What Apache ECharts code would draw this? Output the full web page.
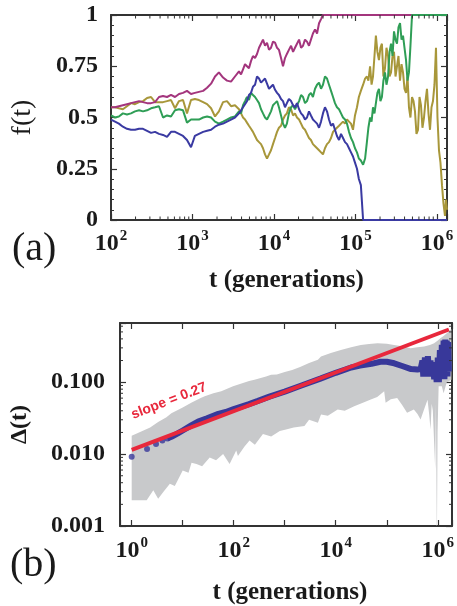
<!DOCTYPE html>
<html>
<head>
<meta charset="utf-8">
<script src="https://cdn.jsdelivr.net/npm/echarts@6/dist/echarts.min.js"></script>
<style>
  html, body { margin: 0; padding: 0; background: #fff; }
  #chart { width: 457px; height: 606px; }
</style>
</head>
<body>
<div id="chart"></div>
<script>
// ---- panel (a): frequency of four alleles, shared time grid ----
var tGen = [100,112,125,140,157,176,197,221,247,277,
  310,347,388,435,487,545,610,683,765,856,
  959,1070,1200,1350,1510,1690,1890,2110,2370,2650,
  2970,3320,
  3720,3940,4170,4410,4660,4930,5220,5520,5850,6190,
  6550,6930,7330,7760,8210,8690,9190,9720,10300,10900,
  11500,12200,12900,13650,14400,15240,16200,17140,18100,19150,
  20300,21480,22700,24020,25400,26880,28400,30050,31900,33750,
  35700,37770,39900,42220,44700,47300,50100,53010,56000,59250,
  62800,66450,70300,74380,78700,83270,88100,93220,98600,104300,
  110000,116400,124000,131200,138000,
  144000,151000,157500,164000,171000,178000,185700,194000,202300,211000,
  220000,230000,240000,251000,261800,273000,284700,297000,309800,323000,
  336900,352000,367100,383000,399500,417000,434900,453000,472500,494000,
  515200,537000,560100,585000,610200,636000,663300,693000,722800,754000,
  786400,821000,856300,893000,931400,972000,1013800,1058000,1103500,1152000,
  1201500,1254000,1290000,1327000];

var fPurple = [0.55,0.55,0.555,0.56,0.565,0.57,0.575,0.58,0.575,0.57,
  0.57,0.575,0.60,0.605,0.60,0.61,0.60,0.615,0.62,0.63,
  0.615,0.62,0.625,0.63,0.645,0.665,0.70,0.72,0.695,0.68,
  0.675,0.70,
  0.725,0.71,0.735,0.76,0.755,0.74,0.775,0.80,0.79,0.81,
  0.84,0.86,0.88,0.85,0.865,0.83,0.84,0.87,0.865,0.84,
  0.83,0.79,0.75,0.79,0.81,0.83,0.85,0.82,0.84,0.86,
  0.88,0.84,0.85,0.88,0.87,0.85,0.88,0.91,0.93,0.91,
  0.96,0.98,1,1,1,1,1,1,1,1,
  1,1,1,1,1,1,1,1,1,1,
  1,1,1,1,1,
  1,1,1,1,1,1,1,1,1,1,
  1,1,1,1,1,1,1,1,1,1,
  1,1,1,1,1,1,1,1,1,1,
  1,1,1,1,1,1,1,1,1,1,
  1,1,1,1,1,1,1,1,1,1,
  1,1,1,1];

var fBlue = [0.49,0.48,0.47,0.455,0.445,0.44,0.44,0.445,0.445,0.435,
  0.425,0.43,0.42,0.415,0.405,0.43,0.43,0.42,0.41,0.39,
  0.355,0.41,0.42,0.43,0.435,0.44,0.455,0.465,0.47,0.48,
  0.49,0.50,
  0.52,0.535,0.55,0.565,0.58,0.61,0.62,0.65,0.66,0.70,
  0.69,0.67,0.68,0.69,0.665,0.64,0.65,0.66,0.635,0.62,
  0.61,0.59,0.58,0.55,0.57,0.59,0.58,0.56,0.55,0.57,
  0.54,0.52,0.51,0.49,0.50,0.53,0.51,0.49,0.48,0.47,
  0.45,0.48,0.52,0.55,0.53,0.49,0.46,0.47,0.44,0.41,
  0.39,0.42,0.40,0.38,0.37,0.35,0.33,0.31,0.28,0.25,
  0.20,0.17,0,0,0,
  0,0,0,0,0,0,0,0,0,0,
  0,0,0,0,0,0,0,0,0,0,
  0,0,0,0,0,0,0,0,0,0,
  0,0,0,0,0,0,0,0,0,0,
  0,0,0,0,0,0,0,0,0,0,
  0,0,0,0];

var fGreen = [0.51,0.50,0.505,0.52,0.515,0.52,0.53,0.535,0.53,0.535,
  0.545,0.55,0.555,0.50,0.51,0.505,0.535,0.54,0.535,0.475,
  0.49,0.49,0.49,0.50,0.505,0.50,0.48,0.47,0.48,0.49,
  0.50,0.505,
  0.53,0.52,0.56,0.58,0.60,0.585,0.62,0.61,0.60,0.585,
  0.57,0.54,0.52,0.50,0.49,0.51,0.53,0.56,0.57,0.58,
  0.55,0.51,0.47,0.45,0.47,0.52,0.55,0.56,0.54,0.56,
  0.58,0.61,0.60,0.57,0.58,0.61,0.62,0.60,0.64,0.66,
  0.67,0.64,0.66,0.70,0.69,0.66,0.63,0.60,0.57,0.55,
  0.54,0.52,0.50,0.49,0.47,0.43,0.40,0.38,0.35,0.33,
  0.30,0.29,0.27,0.30,0.38,
  0.45,0.50,0.48,0.55,0.52,0.57,0.62,0.64,0.58,0.60,
  0.68,0.72,0.66,0.70,0.82,0.86,0.80,0.92,0.88,0.86,
  0.94,0.96,0.88,0.90,0.84,0.78,0.68,0.72,0.85,1,
  1,1,1,1,1,1,1,1,1,1,
  1,1,1,1,1,1,1,1,1,1,
  1,1,1,1];

var fGold = [0.55,0.55,0.545,0.54,0.555,0.57,0.565,0.575,0.58,0.595,
  0.60,0.575,0.575,0.575,0.58,0.585,0.545,0.58,0.585,0.52,
  0.585,0.59,0.585,0.575,0.565,0.545,0.505,0.53,0.575,0.58,
  0.555,0.56,
  0.54,0.52,0.50,0.49,0.475,0.46,0.445,0.43,0.41,0.39,
  0.38,0.37,0.35,0.32,0.30,0.32,0.34,0.37,0.40,0.43,
  0.45,0.46,0.49,0.51,0.52,0.55,0.54,0.51,0.52,0.50,
  0.49,0.47,0.45,0.44,0.42,0.40,0.39,0.37,0.36,0.35,
  0.34,0.33,0.32,0.35,0.37,0.38,0.40,0.43,0.44,0.45,
  0.46,0.47,0.48,0.47,0.49,0.48,0.47,0.44,0.51,0.55,
  0.60,0.63,0.66,0.69,0.70,
  0.68,0.75,0.66,0.70,0.80,0.90,0.82,0.78,0.84,0.86,
  0.70,0.74,0.84,0.80,0.70,0.72,0.80,0.82,0.70,0.75,
  0.80,0.68,0.76,0.72,0.64,0.62,0.70,0.55,0.50,0.60,
  0.58,0.53,0.42,0.44,0.60,0.56,0.45,0.50,0.58,0.64,
  0.52,0.44,0.55,0.58,0.66,0.84,0.50,0.34,0.28,0.17,
  0.08,0.02,0.10,0.05];

var fTicks = [0, 0.25, 0.5, 0.75, 1];

// ---- panel (b): Delta(t) ----
var dotT = [1, 2, 3, 4, 5];
var dotD = [0.0092, 0.0118, 0.0138, 0.0154, 0.0165];

var meanT = [5,6,8,10,15,20,30,50,70,100,200,300,500,1000,2000,5000,10000,20000,30000,50000,
  75000,100000,140000,200000,300000,400000,460000,
  500000,520000,560000,600000,640000,680000,720000,760000,800000,850000,900000,950000,
  1000000,1050000,1100000,1150000,1200000,1250000,1300000,1350000,1400000,1450000,1500000,1550000,1600000,1650000];
var meanD = [0.0165,0.0174,0.0194,0.0213,0.0253,0.0283,0.0315,0.0362,0.0385,0.0422,0.0495,0.055,0.063,0.074,0.0886,0.112,0.135,0.160,0.170,0.180,
  0.192,0.192,0.183,0.168,0.152,0.150,0.152,
  0.20,0.12,0.22,0.13,0.23,0.12,0.20,0.12,0.19,0.11,0.19,0.10,
  0.22,0.10,0.28,0.11,0.33,0.11,0.38,0.11,0.39,0.12,0.38,0.12,0.36,0.14];

var upT = [1,1.5,2.3,3.3,4.8,6,10,15,22,27,40,57,97,200,255,430,540,700,1000,1400,2000,
  3000,4470,5140,8000,12600,20000,31000,45000,66000,100000,139000,200000,293000,400000,
  540000,700000,850000,1000000,1140000,1300000,1500000,1850000];
var upD = [0.018,0.0205,0.0235,0.028,0.0325,0.037,0.0444,0.052,0.060,0.0637,0.070,0.0746,0.0875,0.104,0.108,0.12,0.127,0.128,0.138,0.148,0.162,
  0.185,0.205,0.227,0.255,0.281,0.305,0.33,0.34,0.348,0.342,0.33,0.315,0.297,0.305,
  0.313,0.33,0.348,0.38,0.41,0.44,0.48,0.55];

var lowT = [1,1.97,2.65,3.3,4.2,5.6,7,10,13,14.9,18.6,24,33.8,45,62,83,112,121,160,204,260,374,542,800,1060,1500,2430,3000,4470,
  5140,7000,10900,15000,23000,35000,48600,65000,89000,95000,120000,160000,200000,250000,340000,400000,460000,
  560000,630000,680000,720000,760000,800000,890000,920000,960000,990000,1040000,1200000,1300000,1500000,1850000];
var lowD = [0.00228,0.00228,0.00313,0.00239,0.0030,0.00386,0.0036,0.0059,0.0055,0.0076,0.0073,0.0068,0.0090,0.0082,0.0100,0.0073,0.0112,0.0094,0.0125,0.0154,0.0135,0.019,0.0176,0.021,0.022,0.0235,0.0245,0.030,0.0272,
  0.0355,0.034,0.0417,0.040,0.0463,0.052,0.0573,0.062,0.0746,0.0516,0.058,0.0604,0.048,0.0375,0.0417,0.036,0.0303,
  0.045,0.057,0.035,0.022,0.05,0.04,0.0062,0.05,0.0005,0.02,0.0875,0.0875,0.07,0.10,0.108];

var fitT = [1, 1650000];
var fitD = [0.0114, 0.54];

var dTicks = [0.001, 0.01, 0.1];

// ---- helpers ----
var SERIF = '"Liberation Serif", "Times New Roman", serif';
var INK = '#1a1a1a';

function zip(xs, ys) {
  return xs.map(function (x, i) { return [x, ys[i]]; });
}
function isPow10(v) {
  var e = Math.log10(v);
  return Math.abs(e - Math.round(e)) < 1e-6;
}
function minorLog(lo, hi) {
  var out = [];
  for (var e = Math.floor(Math.log10(lo)); e <= Math.ceil(Math.log10(hi)); e++) {
    for (var k = 2; k <= 9; k++) {
      var v = k * Math.pow(10, e);
      if (v > lo && v < hi) out.push(v);
    }
  }
  return out;
}

var xA = [100, 1327000];
var xB = [0.59, 1900000];
var yB = [0.001, 0.665];

var rich = {
  b: { fontFamily: SERIF, fontWeight: 'bold', fontSize: 24, color: INK },
  e: { fontFamily: SERIF, fontWeight: 'bold', fontSize: 15, color: INK, padding: [0, 0, 14, 1] }
};

function tickAxis(extra) {
  var base = {
    axisLine: { show: true, onZero: false, lineStyle: { color: '#333', width: 2 } },
    axisTick: { show: true, inside: true, length: 6, lineStyle: { color: '#333', width: 1.2 } },
    splitLine: { show: false },
    axisLabel: { show: false }
  };
  return Object.assign(base, extra);
}

var chart = echarts.init(document.getElementById('chart'));

var option = {
  animation: false,
  backgroundColor: '#fff',
  grid: [
    { left: 111, top: 15, width: 336, height: 205 },
    { left: 118, top: 323, width: 334, height: 205 }
  ],
  xAxis: [
    tickAxis({
      gridIndex: 0, type: 'log', min: xA[0], max: xA[1], position: 'bottom',
      axisLabel: {
        show: true, margin: 9, rich: rich,
        formatter: function (v) {
          if (!isPow10(v)) return '';
          return '{b|10}{e|' + Math.round(Math.log10(v)) + '}';
        }
      },
      name: 't (generations)', nameLocation: 'middle', nameGap: 48,
      nameTextStyle: { fontFamily: SERIF, fontWeight: 'bold', fontSize: 25, color: INK, padding: [0, 0, 0, 15] }
    }),
    tickAxis({ gridIndex: 0, type: 'log', min: xA[0], max: xA[1], position: 'top' }),
    tickAxis({
      gridIndex: 1, type: 'log', min: xB[0], max: xB[1], position: 'bottom',
      axisLabel: {
        show: true, margin: 10, rich: rich,
        formatter: function (v) {
          if (!isPow10(v)) return '';
          var e = Math.round(Math.log10(v));
          if (e % 2 !== 0) return '';
          return '{b|10}{e|' + e + '}';
        }
      },
      name: 't (generations)', nameLocation: 'middle', nameGap: 54,
      nameTextStyle: { fontFamily: SERIF, fontWeight: 'bold', fontSize: 25, color: INK, padding: [0, 0, 0, 8] }
    }),
    tickAxis({ gridIndex: 1, type: 'log', min: xB[0], max: xB[1], position: 'top' })
  ],
  yAxis: [
    tickAxis({
      gridIndex: 0, type: 'value', min: fTicks[0], max: fTicks[fTicks.length - 1], interval: 0.25,
      position: 'left',
      minorTick: { show: true, splitNumber: 5, length: 3, lineStyle: { color: '#333', width: 1 } },
      axisLabel: {
        show: true, margin: 13, fontFamily: SERIF, fontWeight: 'bold', fontSize: 24, color: INK,
        formatter: function (v) { return fTicks.indexOf(v) >= 0 ? String(v) : ''; }
      },
      name: 'f(t)', nameLocation: 'middle', nameGap: 74, nameRotate: 90,
      nameTextStyle: { fontFamily: SERIF, fontSize: 28, color: INK }
    }),
    tickAxis({
      gridIndex: 0, type: 'value', min: 0, max: 1, interval: 0.25, position: 'right',
      minorTick: { show: true, splitNumber: 5, length: 3, lineStyle: { color: '#333', width: 1 } }
    }),
    tickAxis({
      gridIndex: 1, type: 'log', min: yB[0], max: yB[1], splitNumber: 3, position: 'left',
      axisLabel: {
        show: true, margin: 15, fontFamily: SERIF, fontWeight: 'bold', fontSize: 24, color: INK,
        formatter: function (v) {
          if (!isPow10(v)) return '';
          return dTicks.some(function (d) { return Math.abs(d - v) < 1e-9; }) ? v.toFixed(3) : '';
        }
      },
      name: '\u0394(t)', nameLocation: 'middle', nameGap: 88, nameRotate: 90,
      nameTextStyle: { fontFamily: SERIF, fontWeight: 'bold', fontSize: 24, color: INK }
    }),
    tickAxis({ gridIndex: 1, type: 'log', min: yB[0], max: yB[1], splitNumber: 3, position: 'right' })
  ],
  graphic: [
    { type: 'text', left: 12, top: 229, style: { text: '(a)', font: '40px ' + SERIF, fill: INK } },
    { type: 'text', left: 10, top: 545, style: { text: '(b)', font: '40px ' + SERIF, fill: INK } },
    {
      type: 'text', x: 169, y: 401, rotation: 21 * Math.PI / 180,
      style: { text: 'slope = 0.27', font: 'bold 14px "Liberation Sans", Arial, sans-serif', fill: '#e8283c', align: 'center', verticalAlign: 'middle' },
      z: 100
    }
  ],
  series: [
    // panel (a)
    { type: 'line', xAxisIndex: 0, yAxisIndex: 0, data: zip(tGen, fGold), showSymbol: false, lineStyle: { color: '#a8973a', width: 2 }, z: 2 },
    { type: 'line', xAxisIndex: 0, yAxisIndex: 0, data: zip(tGen, fPurple), showSymbol: false, lineStyle: { color: '#a3357d', width: 2 }, z: 3 },
    { type: 'line', xAxisIndex: 0, yAxisIndex: 0, data: zip(tGen, fGreen), showSymbol: false, lineStyle: { color: '#2f9e56', width: 2 }, z: 4 },
    { type: 'line', xAxisIndex: 0, yAxisIndex: 0, data: zip(tGen, fBlue), showSymbol: false, lineStyle: { color: '#3a3aa2', width: 2 }, z: 5 },
    // minor log ticks on (a) x axis, bottom and top
    {
      type: 'custom', xAxisIndex: 0, yAxisIndex: 0, silent: true, z: 6,
      data: minorLog(xA[0], xA[1]).map(function (t) { return [t, 0]; }),
      renderItem: function (params, api) {
        var pb = api.coord([api.value(0), 0]);
        var pt = api.coord([api.value(0), 1]);
        var st = { stroke: '#333', lineWidth: 1 };
        return { type: 'group', children: [
          { type: 'line', shape: { x1: pb[0], y1: pb[1], x2: pb[0], y2: pb[1] - 3.5 }, style: st },
          { type: 'line', shape: { x1: pt[0], y1: pt[1], x2: pt[0], y2: pt[1] + 3.5 }, style: st }
        ] };
      }
    },
    // panel (b): gray envelope between upper and lower
    {
      type: 'custom', xAxisIndex: 2, yAxisIndex: 2, silent: true, clip: true, z: 1,
      data: [[1, 0.01]],
      renderItem: function (params, api) {
        var pts = [];
        for (var i = 0; i < upT.length; i++) pts.push(api.coord([upT[i], upD[i]]));
        for (var j = lowT.length - 1; j >= 0; j--) pts.push(api.coord([lowT[j], lowD[j]]));
        return { type: 'polygon', shape: { points: pts }, style: { fill: '#c8c9cb' } };
      }
    },
    { type: 'line', xAxisIndex: 2, yAxisIndex: 2, data: zip(meanT, meanD), showSymbol: false, lineStyle: { color: '#38389a', width: 6 }, z: 3 },
    { type: 'scatter', xAxisIndex: 2, yAxisIndex: 2, data: zip(dotT, dotD), symbolSize: 6, itemStyle: { color: '#38389a' }, z: 3 },
    { type: 'line', xAxisIndex: 2, yAxisIndex: 2, data: zip(fitT, fitD), showSymbol: false, lineStyle: { color: '#e8283c', width: 4 }, z: 4 },
    // minor log ticks on (b) y axis, left and right
    {
      type: 'custom', xAxisIndex: 2, yAxisIndex: 2, silent: true, z: 6,
      data: minorLog(yB[0], yB[1]).map(function (d) { return [1, d]; }),
      renderItem: function (params, api) {
        var pl = api.coord([xB[0], api.value(1)]);
        var pr = api.coord([xB[1], api.value(1)]);
        var st = { stroke: '#333', lineWidth: 1 };
        return { type: 'group', children: [
          { type: 'line', shape: { x1: pl[0], y1: pl[1], x2: pl[0] + 3, y2: pl[1] }, style: st },
          { type: 'line', shape: { x1: pr[0], y1: pr[1], x2: pr[0] - 3, y2: pr[1] }, style: st }
        ] };
      }
    }
  ]
};

chart.setOption(option);
</script>
</body>
</html>
